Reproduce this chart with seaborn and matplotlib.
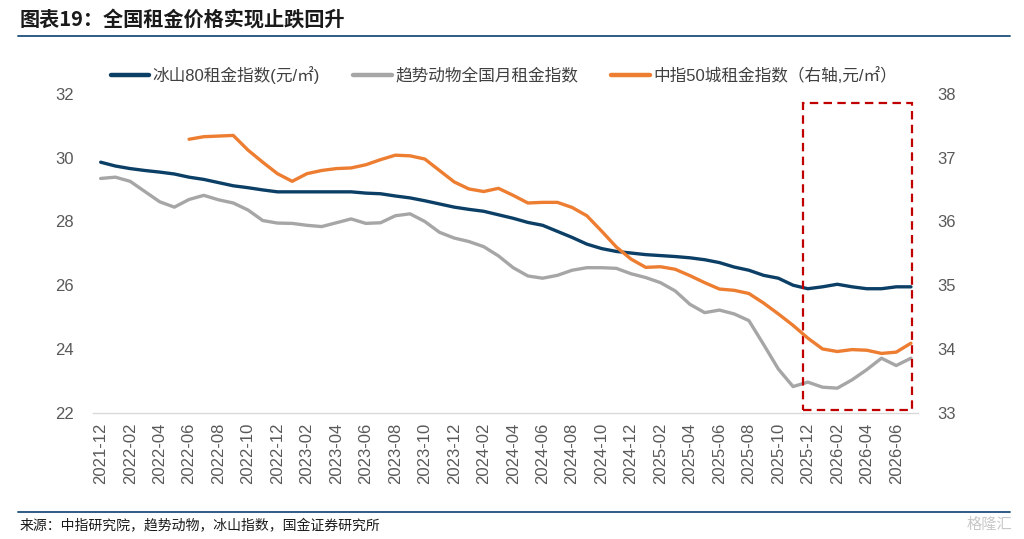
import numpy as np
import pandas as pd
import matplotlib
matplotlib.use("Agg")
import matplotlib.pyplot as plt
from matplotlib.patches import Rectangle
from matplotlib.lines import Line2D
import seaborn as sns

sns.set_theme(style="white")
plt.rcParams['font.family'] = ['Liberation Sans', 'Noto Sans CJK SC', 'DejaVu Sans']
plt.rcParams['axes.unicode_minus'] = False

# ---------------- data ----------------
months = pd.period_range("2021-12", "2026-07", freq="M").strftime("%Y-%m").tolist()

bingshan = [29.86, 29.74, 29.66, 29.60, 29.55, 29.49, 29.39, 29.32, 29.22, 29.12,
            29.06, 28.99, 28.93, 28.93, 28.93, 28.93, 28.93, 28.93, 28.89, 28.87,
            28.80, 28.74, 28.65, 28.55, 28.45, 28.38, 28.32, 28.21, 28.10, 27.97,
            27.88, 27.69, 27.50, 27.29, 27.15, 27.06, 27.01, 26.96, 26.93, 26.90,
            26.86, 26.80, 26.71, 26.57, 26.47, 26.31, 26.22, 26.00, 25.89, 25.95,
            26.03, 25.95, 25.89, 25.89, 25.95, 25.95]

qushi = [29.35, 29.39, 29.26, 28.94, 28.62, 28.45, 28.69, 28.82, 28.68, 28.58,
         28.36, 28.03, 27.95, 27.94, 27.88, 27.84, 27.96, 28.08, 27.94, 27.96,
         28.18, 28.24, 28.00, 27.66, 27.48, 27.37, 27.21, 26.92, 26.55, 26.29,
         26.22, 26.31, 26.47, 26.55, 26.55, 26.53, 26.36, 26.24, 26.08, 25.82,
         25.40, 25.14, 25.22, 25.10, 24.89, 24.14, 23.37, 22.82, 22.96, 22.80,
         22.77, 23.03, 23.35, 23.71, 23.48, 23.71]

zhongzhi = [np.nan] * 6 + [
            37.29, 37.33, 37.34, 37.35, 37.12, 36.93, 36.75, 36.63, 36.75, 36.80,
            36.83, 36.84, 36.89, 36.97, 37.04, 37.03, 36.98, 36.80, 36.62, 36.51,
            36.47, 36.52, 36.41, 36.29, 36.30, 36.30, 36.22, 36.09, 35.85, 35.60,
            35.41, 35.28, 35.29, 35.25, 35.15, 35.04, 34.94, 34.92, 34.87, 34.72,
            34.55, 34.37, 34.17, 34.00, 33.96, 33.99, 33.98, 33.93, 33.95, 34.09]

labels = ["冰山80租金指数(元/㎡)", "趋势动物全国月租金指数", "中指50城租金指数（右轴,元/㎡）"]
colors = ["#0B3F66", "#A6A6A6", "#ED7D31"]

df = pd.DataFrame({"month": months, "bingshan": bingshan, "qushi": qushi, "zhongzhi": zhongzhi})
df["idx"] = np.arange(len(df))

# ---------------- figure ----------------
W, H = 1024, 539
fig = plt.figure(figsize=(W / 100, H / 100), dpi=100)
fig.patch.set_facecolor("white")

left, right = 93.3 / W, 918.3 / W
bottom, top = 1 - 412.7 / H, 1 - 94 / H
ax = fig.add_axes([left, bottom, right - left, top - bottom])
ax2 = ax.twinx()

lw = 2.4
sns.lineplot(data=df, x="idx", y="bingshan", ax=ax, color=colors[0], lw=lw, zorder=3)
sns.lineplot(data=df, x="idx", y="qushi", ax=ax, color=colors[1], lw=lw, zorder=2)
sns.lineplot(data=df.dropna(), x="idx", y="zhongzhi", ax=ax2, color=colors[2], lw=lw, zorder=3)

ax.set_xlim(-0.5, len(df) - 0.5)
ax.set_ylim(22, 32)
ax2.set_ylim(33, 38)
ax.set_yticks(np.arange(22, 33, 2))
ax2.set_yticks(np.arange(33, 39, 1))

ax.set_xticks(np.arange(0, len(df), 2))
ax.set_xticklabels(months[::2], rotation=90)
ax.set_xticks(np.arange(-0.5, len(df), 2), minor=True)
ax.tick_params(axis="x", which="major", length=0, pad=7, labelsize=12, labelcolor="#595959")
ax.tick_params(axis="x", which="minor", length=5, width=1, color="#D9D9D9", direction="out")
ax.tick_params(axis="y", length=0, pad=14, labelsize=12, labelcolor="#595959")
ax2.tick_params(axis="y", length=0, pad=14, labelsize=12, labelcolor="#595959")

for a in (ax, ax2):
    a.set_xlabel("")
    a.set_ylabel("")
    a.grid(False)
    for s in ("top", "left", "right"):
        a.spines[s].set_visible(False)
    a.spines["bottom"].set_color("#D9D9D9")
    a.spines["bottom"].set_linewidth(1)
    a.patch.set_alpha(0)
ax2.spines["bottom"].set_visible(False)

# red dashed highlight box
rect = Rectangle((47.65, 22.09), 7.4, 9.63, fill=False, ec="#C00000", lw=1.6,
                 ls=(0, (3.8, 2.4)), zorder=5, clip_on=False)
ax.add_patch(rect)

# legend
handles = [Line2D([0], [0], color=c, lw=3.2) for c in colors]
fig.legend(handles, labels, loc="center", bbox_to_anchor=(0.492, 1 - 75 / H), ncol=3,
           frameon=False, fontsize=12, handlelength=2.3, handletextpad=0.2,
           columnspacing=2.0, labelcolor="#404040")

# title, lines, source
fig.text(20 / W, 1 - 19 / H, "图表19：全国租金价格实现止跌回升", fontsize=14.5,
         fontweight="bold", style="italic", color="#1a1a1a", va="center", ha="left",
         family=["Noto Sans CJK SC", "DejaVu Sans"])
fig.add_artist(Line2D([18 / W, 1010 / W], [1 - 36 / H, 1 - 36 / H], color="#1F4E79", lw=1.3))
fig.add_artist(Line2D([18 / W, 1010 / W], [1 - 512 / H, 1 - 512 / H], color="#1F4E79", lw=1.3))
fig.text(20 / W, 1 - 526 / H, "来源：中指研究院，趋势动物，冰山指数，国金证券研究所", fontsize=10,
         color="#1a1a1a", va="center", ha="left", family=["Noto Sans CJK SC", "DejaVu Sans"])
fig.text(1012 / W, 1 - 524 / H, "格隆汇", fontsize=11, color="#C8C8C8", va="center", ha="right",
         family=["Noto Sans CJK SC", "DejaVu Sans"])

fig.savefig("out.png", dpi=100, facecolor="white")
